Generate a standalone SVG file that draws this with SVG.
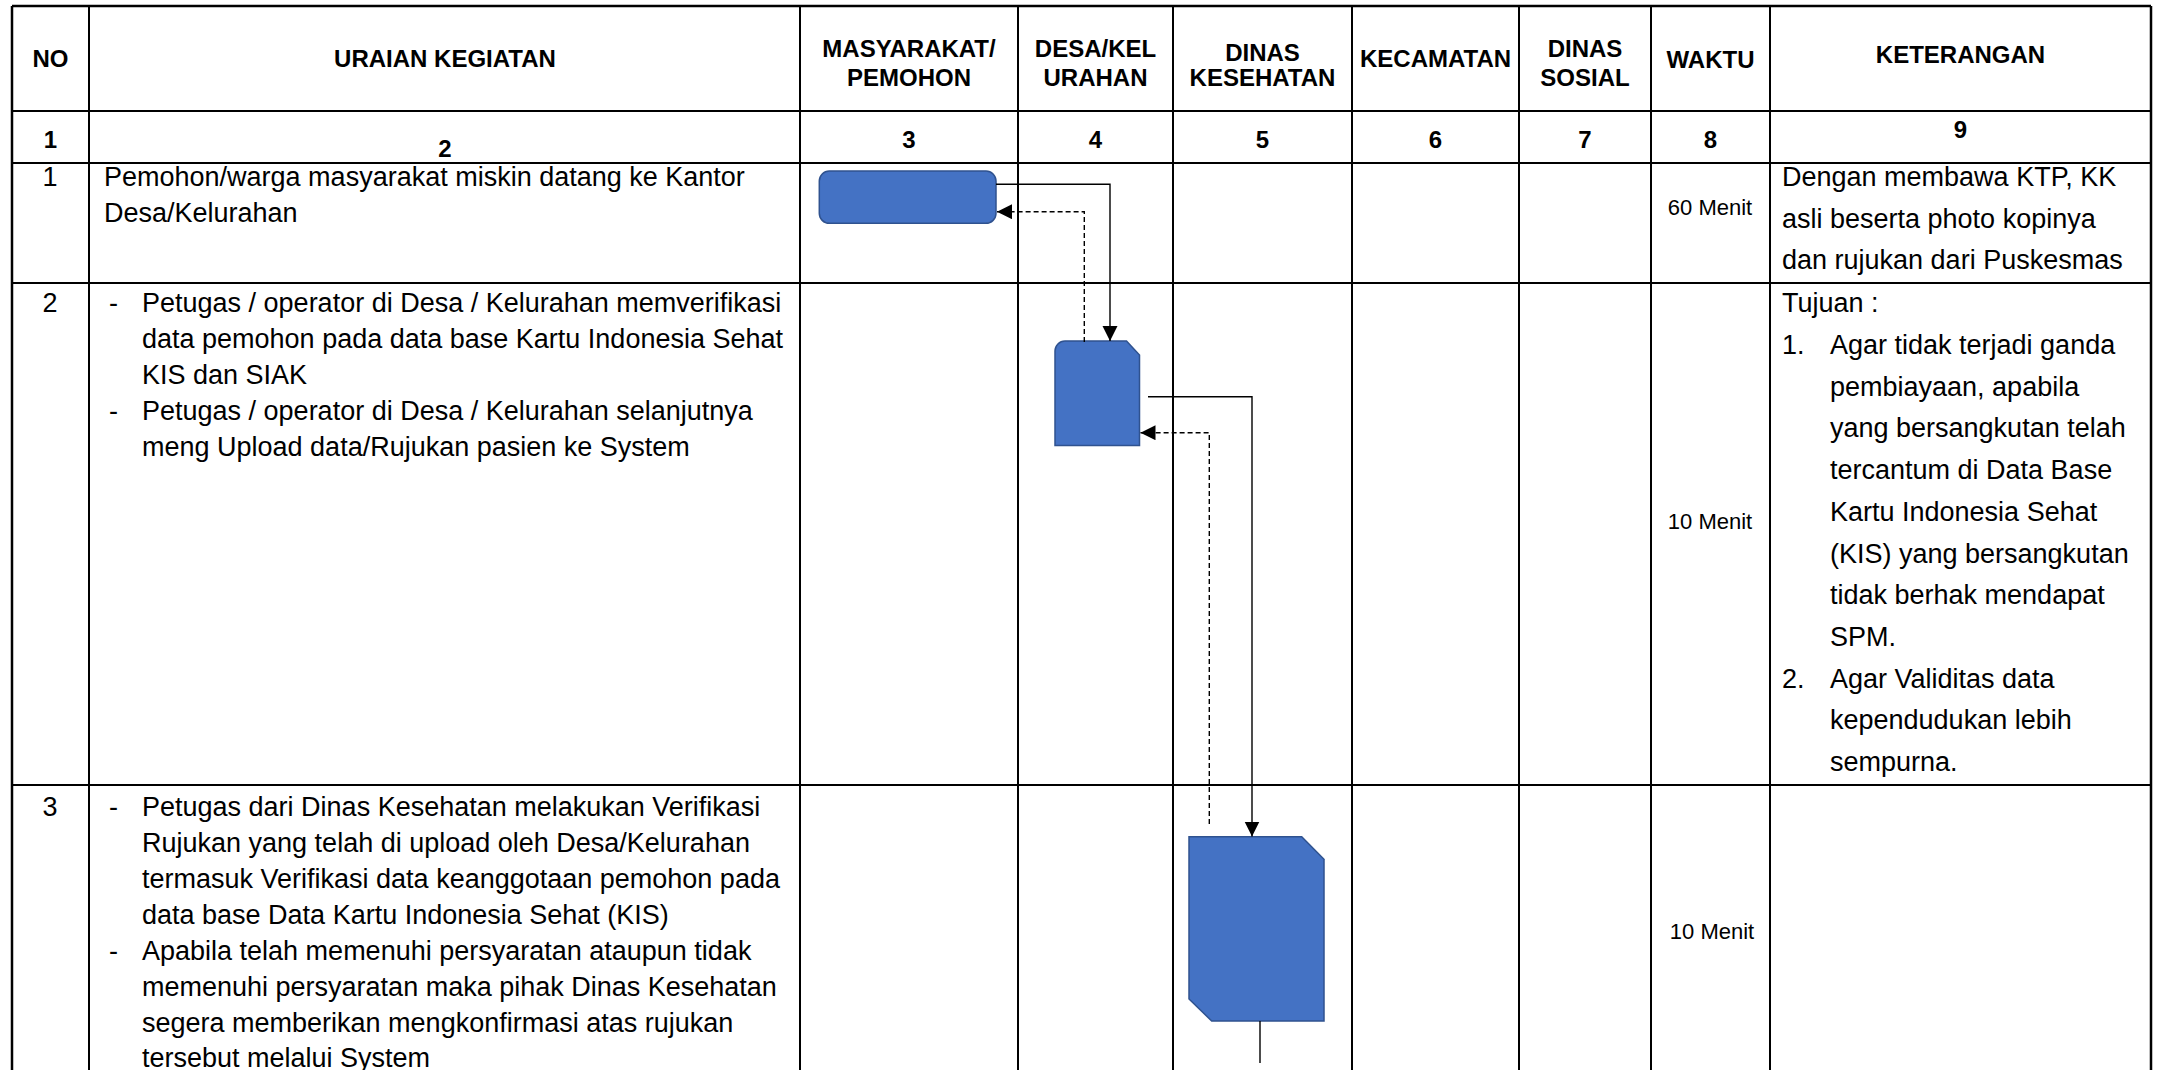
<svg xmlns="http://www.w3.org/2000/svg" width="2167" height="1070" viewBox="0 0 2167 1070">
<style>
.grid{stroke:#000;stroke-width:2;fill:none}
.outer{stroke:#000;stroke-width:2.5;fill:none}
.hd{font-family:"Liberation Sans",Arial,sans-serif;font-weight:bold;font-size:24px;text-anchor:middle;fill:#000}
.tx{font-family:"Liberation Sans",Arial,sans-serif;font-size:27px;fill:#000}
.c{text-anchor:middle}
.tm{font-family:"Liberation Sans",Arial,sans-serif;font-size:22px;text-anchor:middle;fill:#000}
.node{fill:#4472C4;stroke:#2F528F;stroke-width:1.5}
.conn{fill:none;stroke:#000;stroke-width:1.4}
.dash{stroke-dasharray:5 3}
</style>
<defs>
<marker id="arr" markerUnits="userSpaceOnUse" markerWidth="16" markerHeight="16" refX="15" refY="7.5" orient="auto">
<path d="M0,0 L15,7.5 L0,15 Z" fill="#000"/>
</marker>
</defs>
<rect width="2167" height="1070" fill="#fff"/>
<g id="table">
<line class="outer" x1="12" y1="6" x2="2151" y2="6"/>
<line class="outer" x1="12" y1="6" x2="12" y2="1070"/>
<line class="outer" x1="2151" y1="6" x2="2151" y2="1070"/>
<line class="grid" x1="12" y1="111" x2="2151" y2="111"/>
<line class="grid" x1="12" y1="163" x2="2151" y2="163"/>
<line class="grid" x1="12" y1="283" x2="2151" y2="283"/>
<line class="grid" x1="12" y1="785" x2="2151" y2="785"/>
<line class="grid" x1="89" y1="6" x2="89" y2="1070"/>
<line class="grid" x1="800" y1="6" x2="800" y2="1070"/>
<line class="grid" x1="1018" y1="6" x2="1018" y2="1070"/>
<line class="grid" x1="1173" y1="6" x2="1173" y2="1070"/>
<line class="grid" x1="1352" y1="6" x2="1352" y2="1070"/>
<line class="grid" x1="1519" y1="6" x2="1519" y2="1070"/>
<line class="grid" x1="1651" y1="6" x2="1651" y2="1070"/>
<line class="grid" x1="1770" y1="6" x2="1770" y2="1070"/>
</g>
<g id="headers">
<text class="hd" x="50.5" y="67">NO</text>
<text class="hd" x="445" y="67">URAIAN KEGIATAN</text>
<text class="hd" x="909" y="57">MASYARAKAT/</text>
<text class="hd" x="909" y="86">PEMOHON</text>
<text class="hd" x="1095.5" y="57">DESA/KEL</text>
<text class="hd" x="1095.5" y="86">URAHAN</text>
<text class="hd" x="1262.5" y="61">DINAS</text>
<text class="hd" x="1262.5" y="86">KESEHATAN</text>
<text class="hd" x="1435.5" y="67">KECAMATAN</text>
<text class="hd" x="1585" y="57">DINAS</text>
<text class="hd" x="1585" y="86">SOSIAL</text>
<text class="hd" x="1710.5" y="68">WAKTU</text>
<text class="hd" x="1960.5" y="63">KETERANGAN</text>
<text class="hd" x="50.5" y="148">1</text>
<text class="hd" x="445" y="157">2</text>
<text class="hd" x="909" y="148">3</text>
<text class="hd" x="1095.5" y="148">4</text>
<text class="hd" x="1262.5" y="148">5</text>
<text class="hd" x="1435.5" y="148">6</text>
<text class="hd" x="1585" y="148">7</text>
<text class="hd" x="1710.5" y="148">8</text>
<text class="hd" x="1960.5" y="138">9</text>
</g>
<g id="row1">
<text class="tx c" x="50" y="186">1</text>
<text class="tx" x="104" y="186">Pemohon/warga masyarakat miskin datang ke Kantor</text>
<text class="tx" x="104" y="222">Desa/Kelurahan</text>
<text class="tm" x="1710" y="215">60 Menit</text>
<text class="tx" x="1782" y="186">Dengan membawa KTP, KK</text>
<text class="tx" x="1782" y="228">asli beserta photo kopinya</text>
<text class="tx" x="1782" y="269">dan rujukan dari Puskesmas</text>
</g>
<g id="row2">
<text class="tx c" x="50" y="312">2</text>
<text class="tx" x="109" y="312">-</text>
<text class="tx" x="142" y="312">Petugas / operator di Desa / Kelurahan memverifikasi</text>
<text class="tx" x="142" y="348">data pemohon pada data base Kartu Indonesia Sehat</text>
<text class="tx" x="142" y="384">KIS dan SIAK</text>
<text class="tx" x="109" y="420">-</text>
<text class="tx" x="142" y="420">Petugas / operator di Desa / Kelurahan selanjutnya</text>
<text class="tx" x="142" y="456">meng Upload data/Rujukan pasien ke System</text>
<text class="tm" x="1710" y="529">10 Menit</text>
<text class="tx" x="1782" y="312">Tujuan :</text>
<text class="tx" x="1782" y="354">1.</text>
<text class="tx" x="1830" y="354">Agar tidak terjadi ganda</text>
<text class="tx" x="1830" y="396">pembiayaan, apabila</text>
<text class="tx" x="1830" y="437">yang bersangkutan telah</text>
<text class="tx" x="1830" y="479">tercantum di Data Base</text>
<text class="tx" x="1830" y="521">Kartu Indonesia Sehat</text>
<text class="tx" x="1830" y="563">(KIS) yang bersangkutan</text>
<text class="tx" x="1830" y="604">tidak berhak mendapat</text>
<text class="tx" x="1830" y="646">SPM.</text>
<text class="tx" x="1782" y="688">2.</text>
<text class="tx" x="1830" y="688">Agar Validitas data</text>
<text class="tx" x="1830" y="729">kependudukan lebih</text>
<text class="tx" x="1830" y="771">sempurna.</text>
</g>
<g id="row3">
<text class="tx c" x="50" y="816">3</text>
<text class="tx" x="109" y="816">-</text>
<text class="tx" x="142" y="816">Petugas dari Dinas Kesehatan melakukan Verifikasi</text>
<text class="tx" x="142" y="852">Rujukan yang telah di upload oleh Desa/Kelurahan</text>
<text class="tx" x="142" y="888">termasuk Verifikasi data keanggotaan pemohon pada</text>
<text class="tx" x="142" y="924">data base Data Kartu Indonesia Sehat (KIS)</text>
<text class="tx" x="109" y="960">-</text>
<text class="tx" x="142" y="960">Apabila telah memenuhi persyaratan ataupun tidak</text>
<text class="tx" x="142" y="996">memenuhi persyaratan maka pihak Dinas Kesehatan</text>
<text class="tx" x="142" y="1032">segera memberikan mengkonfirmasi atas rujukan</text>
<text class="tx" x="142" y="1067">tersebut melalui System</text>
<text class="tm" x="1712" y="939">10 Menit</text>
</g>
<g id="node1">
<rect class="node" x="819.3" y="171" width="176.7" height="52.3" rx="10"/>
</g>
<g id="node2">
<path class="node" d="M1055,351 A10,10 0 0 1 1065,341 H1126.5 L1139.5,355 V445.5 H1055 Z"/>
</g>
<g id="node3">
<path class="node" d="M1189,836.7 H1301.7 L1324,859.3 V1021 H1211.7 L1189,999 Z"/>
</g>
<g id="connectors">
<path class="conn" d="M996,184.3 H1110 V341" marker-end="url(#arr)"/>
<path class="conn dash" d="M1084.3,342 V211.7 H997" marker-end="url(#arr)"/>
<path class="conn" d="M1148,396.7 H1252 V836.5" marker-end="url(#arr)"/>
<path class="conn dash" d="M1209.3,824 V432.7 H1140.5" marker-end="url(#arr)"/>
<path class="conn" d="M1260,1021 V1063"/>
</g>
</svg>
